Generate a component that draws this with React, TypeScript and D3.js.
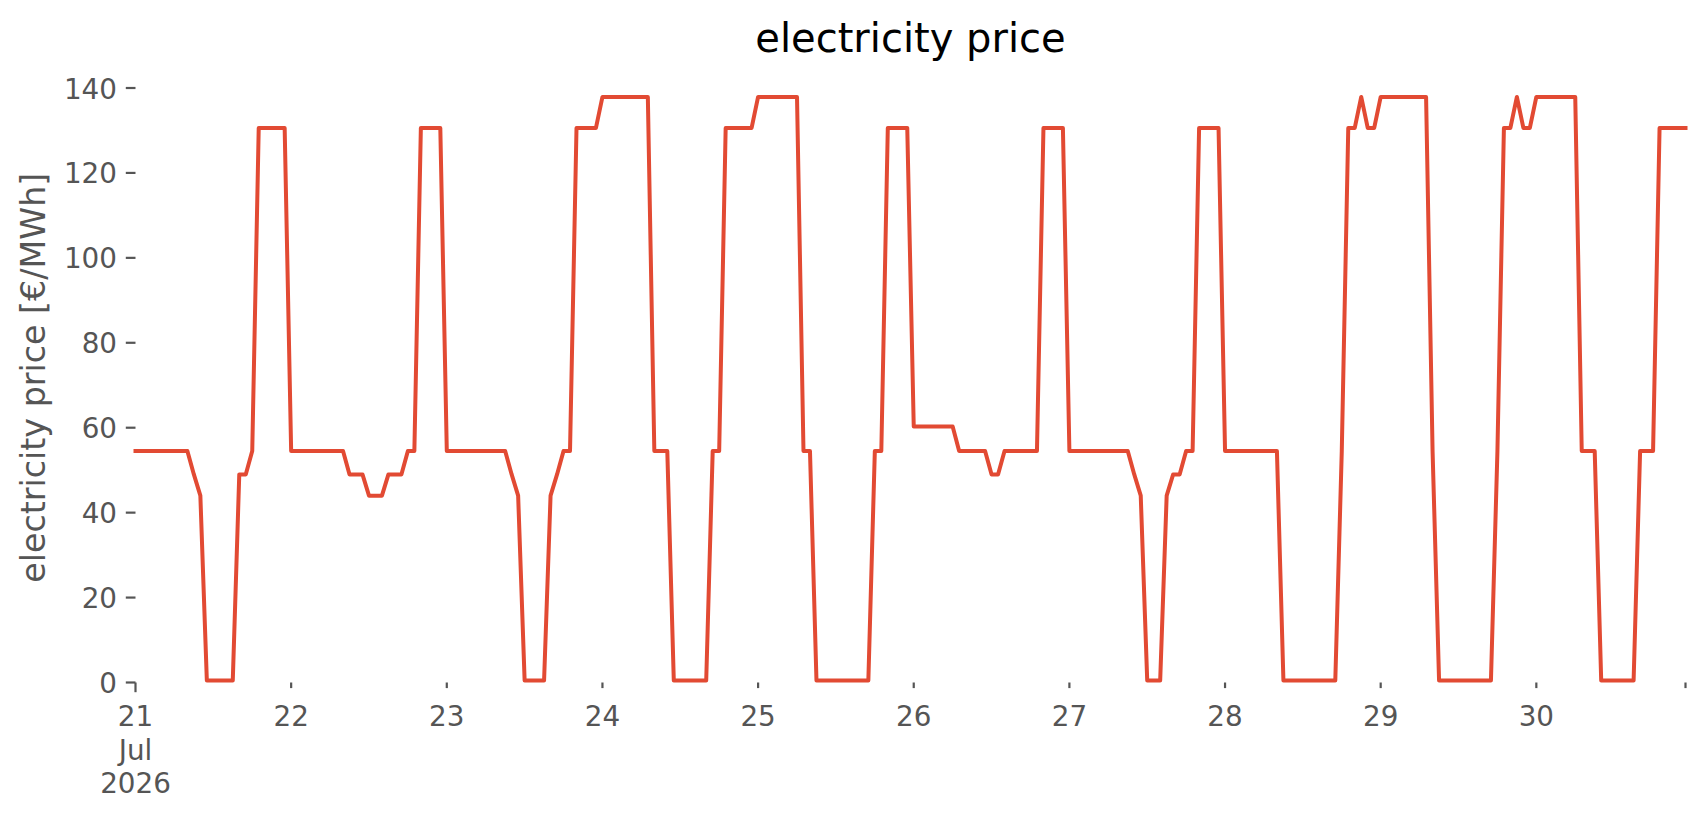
import React from "react";
import * as d3 from "d3";

// ---- data (hourly electricity price, €/MWh) ----
const startDay = "2026-07-21";
const dayLabels = ["21", "22", "23", "24", "25", "26", "27", "28", "29", "30"];

const day21 = [54.5, 54.5, 54.5, 54.5, 54.5, 54.5, 54.5, 54.5, 54.5, 49, 44, 0.5, 0.5, 0.5, 0.5, 0.5, 49, 49, 54.5, 130.6, 130.6, 130.6, 130.6, 130.6];
const day22 = [54.5, 54.5, 54.5, 54.5, 54.5, 54.5, 54.5, 54.5, 54.5, 49, 49, 49, 44, 44, 44, 49, 49, 49, 54.5, 54.5, 130.6, 130.6, 130.6, 130.6];
const day23 = [54.5, 54.5, 54.5, 54.5, 54.5, 54.5, 54.5, 54.5, 54.5, 54.5, 49, 44, 0.5, 0.5, 0.5, 0.5, 44, 49, 54.5, 54.5, 130.6, 130.6, 130.6, 130.6];
const day24 = [137.9, 137.9, 137.9, 137.9, 137.9, 137.9, 137.9, 137.9, 54.5, 54.5, 54.5, 0.5, 0.5, 0.5, 0.5, 0.5, 0.5, 54.5, 54.5, 130.6, 130.6, 130.6, 130.6, 130.6];
const day25 = [137.9, 137.9, 137.9, 137.9, 137.9, 137.9, 137.9, 54.5, 54.5, 0.5, 0.5, 0.5, 0.5, 0.5, 0.5, 0.5, 0.5, 0.5, 54.5, 54.5, 130.6, 130.6, 130.6, 130.6];
const day26 = [60.3, 60.3, 60.3, 60.3, 60.3, 60.3, 60.3, 54.5, 54.5, 54.5, 54.5, 54.5, 49, 49, 54.5, 54.5, 54.5, 54.5, 54.5, 54.5, 130.6, 130.6, 130.6, 130.6];
const day27 = [54.5, 54.5, 54.5, 54.5, 54.5, 54.5, 54.5, 54.5, 54.5, 54.5, 49, 44, 0.5, 0.5, 0.5, 44, 49, 49, 54.5, 54.5, 130.6, 130.6, 130.6, 130.6];
const day28 = [54.5, 54.5, 54.5, 54.5, 54.5, 54.5, 54.5, 54.5, 54.5, 0.5, 0.5, 0.5, 0.5, 0.5, 0.5, 0.5, 0.5, 0.5, 54.5, 130.6, 130.6, 137.9, 130.6, 130.6];
const day29 = [137.9, 137.9, 137.9, 137.9, 137.9, 137.9, 137.9, 137.9, 54.5, 0.5, 0.5, 0.5, 0.5, 0.5, 0.5, 0.5, 0.5, 0.5, 54.5, 130.6, 130.6, 137.9, 130.6, 130.6];
const day30 = [137.9, 137.9, 137.9, 137.9, 137.9, 137.9, 137.9, 54.5, 54.5, 54.5, 0.5, 0.5, 0.5, 0.5, 0.5, 0.5, 54.5, 54.5, 54.5, 130.6, 130.6, 130.6, 130.6, 130.6];

const dailyPrices = [day21, day22, day23, day24, day25, day26, day27, day28, day29, day30];
const yTicks = [0, 20, 40, 60, 80, 100, 120, 140];

const titleText = "electricity price";
const yLabelText = "electricity price [€/MWh]";

// ---- layout ----
const W = 1706;
const H = 815;
const left = 135.5;
const right = 1685.5;
const top = 73;
const bottom = 682.5;
const FONT = "DejaVu Sans, Liberation Sans, sans-serif";
const TICK_COLOR = "#555555";
const LINE_COLOR = "#E24A33";

export default function App() {
  const start = new Date(startDay + "T00:00:00Z");
  const series: { t: Date; v: number }[] = [];
  dailyPrices.forEach((arr, di) => {
    arr.forEach((v, h) => {
      series.push({ t: d3.utcHour.offset(start, di * 24 + h), v });
    });
  });
  const end = series[series.length - 1].t;

  const x = d3.scaleUtc().domain([start, end]).range([left, right]);
  const y = d3.scaleLinear().domain([0, 140]).range([bottom, 88]);

  const line = d3
    .line<{ t: Date; v: number }>()
    .x((d) => x(d.t))
    .y((d) => y(d.v));

  const dayTicks = dayLabels.map((lab, i) => ({ lab, t: d3.utcDay.offset(start, i) }));

  return (
    <svg
      width={W}
      height={H}
      viewBox={`0 0 ${W} ${H}`}
      style={{ position: "absolute", left: 0, top: 0, background: "#fff" }}
      fontFamily={FONT}
    >
      <rect x={0} y={0} width={W} height={H} fill="#fff" />
      {/* title */}
      <text x={(left + right) / 2} y={52} textAnchor="middle" fontSize={40} fill="#000">
        {titleText}
      </text>
      {/* y label */}
      <text
        transform={`translate(45, ${(top + bottom) / 2}) rotate(-90)`}
        textAnchor="middle"
        fontSize={33.3}
        fill={TICK_COLOR}
      >
        {yLabelText}
      </text>
      {/* y ticks */}
      {yTicks.map((v) => (
        <g key={v}>
          <line x1={left - 9.7} x2={left} y1={y(v)} y2={y(v)} stroke={TICK_COLOR} strokeWidth={2.2} />
          <text x={117} y={y(v) + 10.5} textAnchor="end" fontSize={27.8} fill={TICK_COLOR}>
            {v}
          </text>
        </g>
      ))}
      {/* x ticks */}
      {dayTicks.map((d, i) => (
        <g key={d.lab}>
          <line
            x1={x(d.t)}
            x2={x(d.t)}
            y1={bottom}
            y2={bottom + (i === 0 ? 9.7 : 5.6)}
            stroke={TICK_COLOR}
            strokeWidth={2.2}
          />
          <text x={x(d.t)} y={726} textAnchor="middle" fontSize={27.8} fill={TICK_COLOR}>
            {d.lab}
          </text>
          {i === 0 && (
            <>
              <text x={x(d.t)} y={760} textAnchor="middle" fontSize={27.8} fill={TICK_COLOR}>
                Jul
              </text>
              <text x={x(d.t)} y={793} textAnchor="middle" fontSize={27.8} fill={TICK_COLOR}>
                2026
              </text>
            </>
          )}
        </g>
      ))}
      <line x1={x(end)} x2={x(end)} y1={bottom} y2={bottom + 5.6} stroke={TICK_COLOR} strokeWidth={2.2} />
      {/* price line */}
      <path
        d={line(series) || ""}
        fill="none"
        stroke={LINE_COLOR}
        strokeWidth={4}
        strokeLinejoin="round"
        strokeLinecap="square"
      />
    </svg>
  );
}
